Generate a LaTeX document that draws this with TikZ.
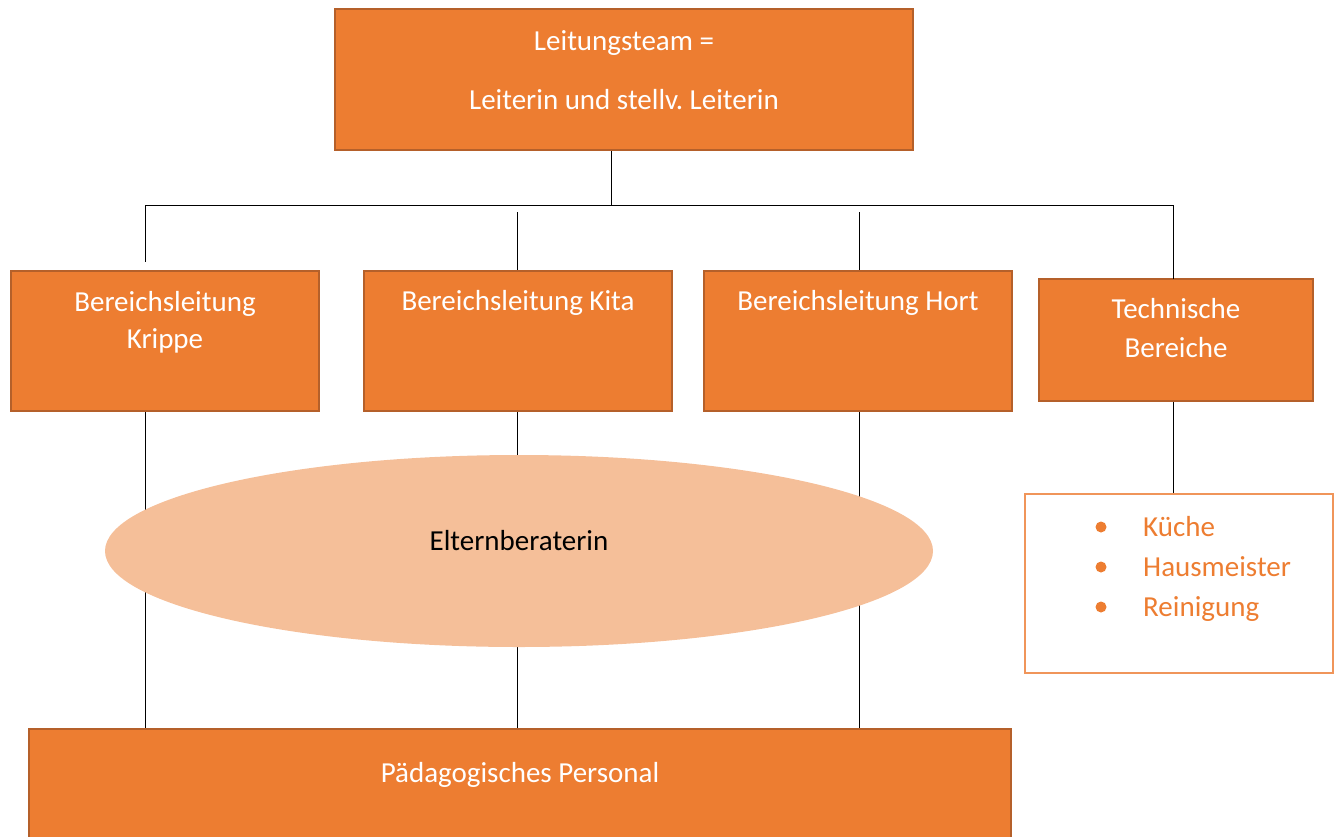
\documentclass[tikz,border=0pt]{standalone}
\usepackage{fontspec}
\setmainfont{Carlito}
\usetikzlibrary{shapes.geometric}
\definecolor{boxfill}{HTML}{ED7D31}
\definecolor{boxline}{HTML}{B5602A}
\definecolor{ellfill}{HTML}{F5BF99}
\definecolor{listline}{HTML}{F0955A}
\frenchspacing
\begin{document}
\begin{tikzpicture}[x=1pt,y=-1pt,
  orangebox/.style={draw=boxline,fill=boxfill,line width=2pt,inner sep=0pt,minimum width=#1},
  boxtext/.style={text=white,font=\fontsize{29}{34}\selectfont,align=center,inner sep=0pt,anchor=base},
  link/.style={draw=black,line width=0.9pt},
  listtext/.style={text=boxfill,font=\fontsize{29}{34}\selectfont,inner sep=0pt,anchor=base west}]
\useasboundingbox (0,0) rectangle (1341,836);
\clip (0,0) rectangle (1341,836);
% boxes
\node[orangebox=578pt,minimum height=141pt] (top) at (624,79.5) {};
\node[orangebox=308pt,minimum height=140pt] (krippe) at (165,341) {};
\node[orangebox=308pt,minimum height=140pt] (kita) at (518,341) {};
\node[orangebox=308pt,minimum height=140pt] (hort) at (858,341) {};
\node[orangebox=274pt,minimum height=122pt] (tech) at (1176,340) {};
\node[draw=listline,line width=1.2pt,minimum width=308pt,minimum height=179pt,inner sep=0pt] (list) at (1179,583.5) {};
\node[orangebox=982pt,minimum height=140pt] (paed) at (520,799) {};
% connector coordinates
\coordinate (j) at (611,205);
\coordinate (hl) at (145,205);
\coordinate (hr) at (1173,205);
\coordinate (d1) at (145,262);
\coordinate (s2) at (517,212);
\coordinate (d2) at (517,270);
\coordinate (s3) at (859,212);
\coordinate (d3) at (859,270);
\coordinate (d4) at (1173,279);
% connectors
\draw[link] (top.south -| j) -- (j);
\draw[link] (hl) -- (hr);
\draw[link] (hl) -- (d1);
\draw[link] (s2) -- (d2);
\draw[link] (s3) -- (d3);
\draw[link] (hr) -- (d4);
\draw[link] (krippe.south -| hl) -- (paed.north -| hl);
\draw[link] (kita.south -| s2) -- (paed.north -| s2);
\draw[link] (hort.south -| s3) -- (paed.north -| s3);
\draw[link] (tech.south -| hr) -- (list.north -| hr);
% ellipse on top of the lines
\node[ellipse,fill=ellfill,minimum width=828pt,minimum height=192pt,inner sep=0pt] (eltern) at (519,551) {};
% texts
\node[boxtext] (t1) at (624,50) {Leitungsteam =};
\node[boxtext] (t2) at (624,109) {Leiterin und stellv. Leiterin};
\node[boxtext] (t3) at (165,311) {Bereichsleitung};
\node[boxtext] (t4) at (165,348) {Krippe};
\node[boxtext] (t5) at (518,310) {Bereichsleitung Kita};
\node[boxtext] (t6) at (858,310) {Bereichsleitung Hort};
\node[boxtext] (t7) at (1176,318) {Technische};
\node[boxtext] (t8) at (1176,357) {Bereiche};
\node[boxtext,text=black] (t9) at (519,550) {Elternberaterin};
\node[boxtext] (t10) at (520,782) {Pädagogisches Personal};
% list
\fill[boxfill] (1101,527) circle (5.5pt) (1101,567) circle (5.5pt) (1101,607) circle (5.5pt);
\node[listtext] (l1) at (1143,536) {Küche};
\node[listtext] (l2) at (1143,576) {Hausmeister};
\node[listtext] (l3) at (1143,616) {Reinigung};
\end{tikzpicture}
\end{document}
